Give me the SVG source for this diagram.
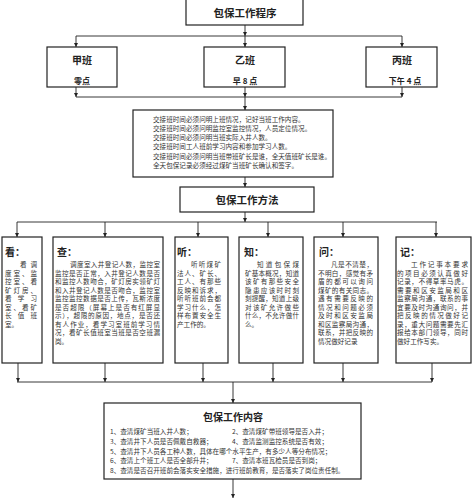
<svg xmlns="http://www.w3.org/2000/svg" width="472" height="500" viewBox="0 0 472 500">
<style>
.box{fill:#fff;stroke:#222;stroke-width:1.2}
.c{fill:none;stroke:#222;stroke-width:0.9}
.a{fill:none;stroke:#222;stroke-width:0.9;marker-end:url(#ah)}
.t{font-family:"Noto Sans CJK SC","Noto Sans",sans-serif;font-size:6.6px;fill:#333}
.h{font-family:"Noto Sans CJK SC","Noto Sans",sans-serif;font-weight:bold;fill:#222}
.ttl{font-size:10.5px;text-anchor:middle}
.lab{font-size:10px}
.sub{font-size:8px;text-anchor:middle}
</style>
<defs>
<marker id="ah" viewBox="0 0 8 8" markerWidth="4.5" markerHeight="4.5" refX="8" refY="4" orient="auto" markerUnits="userSpaceOnUse">
<path d="M0,0 L8,4 L0,8 z" fill="#222"/>
</marker>
</defs>
<g id="connectors">
<path class="a" d="M245,25 V36"/>
<path class="c" d="M76,36 H402"/>
<path class="a" d="M76,36 V47"/>
<path class="a" d="M245,36 V47"/>
<path class="a" d="M402,36 V47"/>
<path class="a" d="M76,87 V97"/>
<path class="a" d="M245,87 V97"/>
<path class="a" d="M402,87 V97"/>
<path class="c" d="M76,97 H402"/>
<path class="a" d="M245,97 V110"/>
<path class="a" d="M245,177 V187"/>
<path class="a" d="M245,212 V222"/>
<path class="c" d="M17,222 H437"/>
<path class="a" d="M17,222 V237"/>
<path class="a" d="M105,222 V237"/>
<path class="a" d="M198,222 V237"/>
<path class="a" d="M268,222 V237"/>
<path class="a" d="M343,222 V237"/>
<path class="a" d="M436,222 V237"/>
<path class="a" d="M18,363 V382"/>
<path class="a" d="M105,363 V382"/>
<path class="a" d="M203,363 V382"/>
<path class="a" d="M273,363 V382"/>
<path class="a" d="M343,363 V382"/>
<path class="a" d="M432,363 V382"/>
<path class="c" d="M17,382 H432"/>
<path class="a" d="M233,382 V403"/>
<path class="a" d="M233,479 V498"/>
</g>
<g id="title">
<rect class="box" x="186" y="-1" width="117" height="26"/>
<text class="h ttl" x="245" y="16.5">包保工作程序</text>
</g>
<g id="jia">
<rect class="box" x="47" y="47" width="70" height="40"/>
<text class="h lab" x="82" y="64" text-anchor="middle">甲班</text>
<text class="h sub" x="82" y="84">零点</text>
</g>
<g id="yi">
<rect class="box" x="204" y="47" width="81" height="40"/>
<text class="h lab" x="245" y="64" text-anchor="middle">乙班</text>
<text class="h sub" x="245" y="84">早 8 点</text>
</g>
<g id="bing">
<rect class="box" x="366" y="47" width="71" height="40"/>
<text class="h lab" x="402" y="64" text-anchor="middle">丙班</text>
<text class="h sub" x="405" y="84">下午 4 点</text>
</g>
<g id="handover">
<rect class="box" x="133" y="110" width="200" height="67"/>
<text class="t" x="153" y="121.5">交接班时间必须问明上班情况，记好当班工作内容。</text>
<text class="t" x="153" y="130.8">交接班时间必须问明监控室监控情况，人员定位情况。</text>
<text class="t" x="153" y="140.1">交接班时间必须问明当班实际入井人数。</text>
<text class="t" x="153" y="149.4">交接班时间工人班前学习内容和参加学习人数。</text>
<text class="t" x="153" y="158.7">交接班时间必须问明当班带班矿长是谁，全天值班矿长是谁。</text>
<text class="t" x="153" y="168">全天包保记录必须经过煤矿当班矿长确认和签字。</text>
</g>
<g id="method">
<rect class="box" x="180" y="187" width="134" height="25"/>
<text class="h ttl" x="247" y="203.5">包保工作方法</text>
</g>
<g id="kan">
<rect class="box" x="2" y="237" width="40" height="126"/>
<text class="h lab" x="5" y="255.5">看：</text>
<text class="t" x="20" y="267.4" textLength="17" lengthAdjust="spacing">看调</text>
<text class="t" x="5" y="275.9" textLength="32" lengthAdjust="spacing">度室、监</text>
<text class="t" x="5" y="284.4" textLength="32" lengthAdjust="spacing">控室、看</text>
<text class="t" x="5" y="292.9" textLength="32" lengthAdjust="spacing">矿灯房、</text>
<text class="t" x="5" y="301.4" textLength="32" lengthAdjust="spacing">看学习</text>
<text class="t" x="5" y="309.9" textLength="32" lengthAdjust="spacing">室、看矿</text>
<text class="t" x="5" y="318.4" textLength="32" lengthAdjust="spacing">长值班</text>
<text class="t" x="5" y="326.9">室。</text>
</g>
<g id="cha">
<rect class="box" x="53" y="237" width="110" height="126"/>
<text class="h lab" x="57" y="255.5">查：</text>
<text class="t" x="70" y="267.4" textLength="90" lengthAdjust="spacing">调度室入井登记人数，监控室</text>
<text class="t" x="55" y="275.9" textLength="105" lengthAdjust="spacing">监控是否正常，入井登记人数是否</text>
<text class="t" x="55" y="284.4" textLength="105" lengthAdjust="spacing">和监控人数吻合，矿灯房实领矿灯</text>
<text class="t" x="55" y="292.9" textLength="105" lengthAdjust="spacing">和入井登记人数是否吻合，监控室</text>
<text class="t" x="55" y="301.4" textLength="105" lengthAdjust="spacing">监控监控数据是否上传，瓦斯浓度</text>
<text class="t" x="55" y="309.9" textLength="105" lengthAdjust="spacing">是否超限（屏幕上是否有红屏显</text>
<text class="t" x="55" y="318.4" textLength="105" lengthAdjust="spacing">示），超限的原因，地点，是否还</text>
<text class="t" x="55" y="326.9" textLength="105" lengthAdjust="spacing">有人作业，看学习室班前学习情</text>
<text class="t" x="55" y="335.4" textLength="105" lengthAdjust="spacing">况，看矿长值班室当班是否空班漏</text>
<text class="t" x="55" y="343.9">岗。</text>
</g>
<g id="ting">
<rect class="box" x="175" y="237" width="53" height="126"/>
<text class="h lab" x="177" y="255.5">听：</text>
<text class="t" x="191" y="267.4" textLength="30" lengthAdjust="spacing">听听煤矿</text>
<text class="t" x="177" y="275.9" textLength="44" lengthAdjust="spacing">法人、矿长、</text>
<text class="t" x="177" y="284.4" textLength="44" lengthAdjust="spacing">工人、有那些</text>
<text class="t" x="177" y="292.9" textLength="44" lengthAdjust="spacing">反映和诉求，</text>
<text class="t" x="177" y="301.4" textLength="44" lengthAdjust="spacing">听听班前会都</text>
<text class="t" x="177" y="309.9" textLength="44" lengthAdjust="spacing">学习什么，怎</text>
<text class="t" x="177" y="318.4" textLength="44" lengthAdjust="spacing">样布置安全生</text>
<text class="t" x="177" y="326.9">产工作的。</text>
</g>
<g id="zhi">
<rect class="box" x="239" y="237" width="64" height="126"/>
<text class="h lab" x="244" y="255.5">知：</text>
<text class="t" x="257" y="267.4" textLength="42" lengthAdjust="spacing">知道包保煤</text>
<text class="t" x="245" y="275.9" textLength="54" lengthAdjust="spacing">矿基本概况，知道</text>
<text class="t" x="245" y="284.4" textLength="54" lengthAdjust="spacing">该矿有那些安全</text>
<text class="t" x="245" y="292.9" textLength="54" lengthAdjust="spacing">隐患应该时时刻</text>
<text class="t" x="245" y="301.4" textLength="54" lengthAdjust="spacing">刻提醒，知道上级</text>
<text class="t" x="245" y="309.9" textLength="54" lengthAdjust="spacing">对该矿允许做些</text>
<text class="t" x="245" y="318.4" textLength="54" lengthAdjust="spacing">什么，不允许做什</text>
<text class="t" x="245" y="326.9">么。</text>
</g>
<g id="wen">
<rect class="box" x="314" y="237" width="64" height="126"/>
<text class="h lab" x="319" y="255.5">问：</text>
<text class="t" x="331" y="267.4" textLength="42" lengthAdjust="spacing">凡是不清楚，</text>
<text class="t" x="318" y="275.9" textLength="55" lengthAdjust="spacing">不明白，感觉有矛</text>
<text class="t" x="318" y="284.4" textLength="55" lengthAdjust="spacing">盾的都可以询问</text>
<text class="t" x="318" y="292.9" textLength="55" lengthAdjust="spacing">煤矿的有关同志。</text>
<text class="t" x="318" y="301.4" textLength="55" lengthAdjust="spacing">遇有需要反映的</text>
<text class="t" x="318" y="309.9" textLength="55" lengthAdjust="spacing">情况和问题必须</text>
<text class="t" x="318" y="318.4" textLength="55" lengthAdjust="spacing">及时和区安监局</text>
<text class="t" x="318" y="326.9" textLength="55" lengthAdjust="spacing">和区监察局沟通，</text>
<text class="t" x="318" y="335.4" textLength="55" lengthAdjust="spacing">联系，并把反映的</text>
<text class="t" x="318" y="343.9">情况做好记录</text>
</g>
<g id="ji">
<rect class="box" x="396" y="237" width="75" height="126"/>
<text class="h lab" x="400" y="255.5">记：</text>
<text class="t" x="411" y="267.4" textLength="57" lengthAdjust="spacing">工作记事本要求</text>
<text class="t" x="397" y="275.9" textLength="71" lengthAdjust="spacing">的项目必须认真做好</text>
<text class="t" x="397" y="284.4" textLength="71" lengthAdjust="spacing">记录，不得草率马虎。</text>
<text class="t" x="397" y="292.9" textLength="71" lengthAdjust="spacing">需要和区安监局和区</text>
<text class="t" x="397" y="301.4" textLength="71" lengthAdjust="spacing">监察局沟通，联系的事</text>
<text class="t" x="397" y="309.9" textLength="71" lengthAdjust="spacing">宜要及时沟通询问，并</text>
<text class="t" x="397" y="318.4" textLength="71" lengthAdjust="spacing">把反映的情况做好记</text>
<text class="t" x="397" y="326.9" textLength="71" lengthAdjust="spacing">录，重大问题需要先汇</text>
<text class="t" x="397" y="335.4" textLength="71" lengthAdjust="spacing">报给本部门领导，同时</text>
<text class="t" x="397" y="343.9">做好工作写实。</text>
</g>
<g id="content">
<rect class="box" x="104" y="403" width="257" height="76"/>
<text class="h" x="233" y="420.5" font-size="10" text-anchor="middle">包保工作内容</text>
<text class="t" x="110" y="434">1、查清煤矿当班入井人数；</text>
<text class="t" x="232" y="434">2、查清煤矿带班领导是否入井；</text>
<text class="t" x="110" y="444">3、查清井下人员是否佩戴自救器；</text>
<text class="t" x="232" y="444">4、查清监测监控系统是否有效；</text>
<text class="t" x="110" y="453.5">5、查清井下人员各工种人数，具体在哪个水平生产，有多少人等分布情况；</text>
<text class="t" x="110" y="463.3">6、查清上个班工人是否全部升井；</text>
<text class="t" x="232" y="463.3">7、查清本班瓦检员是否到岗；</text>
<text class="t" x="110" y="473">8、查清是否召开班前会落实安全措施，进行班前教育，是否落实了岗位责任制。</text>
</g>
</svg>
